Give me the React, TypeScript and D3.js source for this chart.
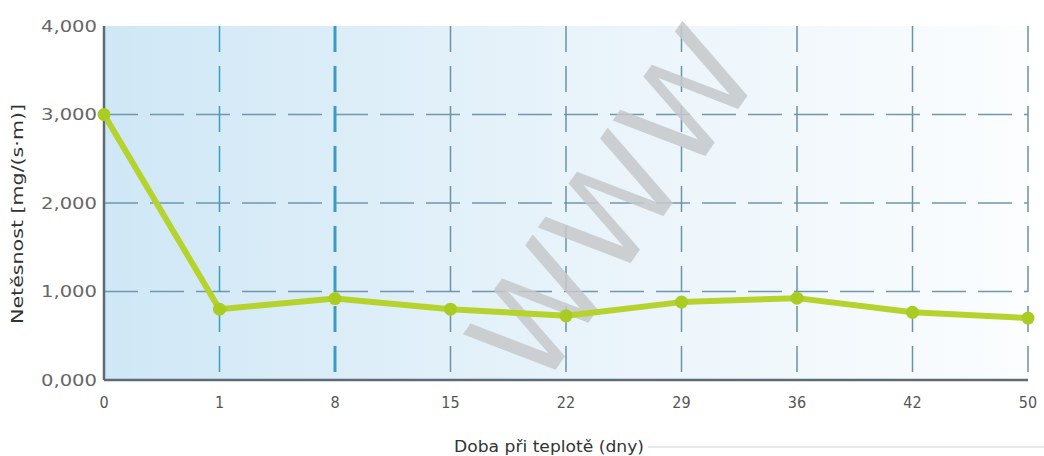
import React, { useEffect, useRef } from "react";
import * as d3 from "d3";

const categories = ["0", "1", "8", "15", "22", "29", "36", "42", "50"];
const values = [3000, 800, 920, 800, 725, 880, 925, 765, 700];
const yTicks = [0, 1000, 2000, 3000, 4000];
const yTickLabels = ["0,000", "1,000", "2,000", "3,000", "4,000"];
const yTitle = "Netěsnost [mg/(s·m)]";
const xTitle = "Doba při teplotě (dny)";

export default function App() {
  const ref = useRef<SVGSVGElement>(null);
  useEffect(() => {
    const W = 1044, H = 456;
    const m = { left: 104, right: 16, top: 26, bottom: 76 };
    const svg = d3.select(ref.current!);
    svg.selectAll("*").remove();
    const x = d3.scalePoint<string>().domain(categories).range([m.left, W - m.right]).padding(0);
    const y = d3.scaleLinear().domain([0, 4000]).range([H - m.bottom, m.top]);

    const defs = svg.append("defs");
    const g = defs.append("linearGradient").attr("id", "bg").attr("x1", "0").attr("x2", "1").attr("y1", "0").attr("y2", "0");
    g.append("stop").attr("offset", "0").attr("stop-color", "#cfe7f6");
    g.append("stop").attr("offset", "0.5").attr("stop-color", "#e8f3fa");
    g.append("stop").attr("offset", "1").attr("stop-color", "#fbfdfe");

    svg.append("rect").attr("width", W).attr("height", H).attr("fill", "#ffffff");
    svg.append("rect")
      .attr("x", x("0")!).attr("y", y(4000))
      .attr("width", x("50")! - x("0")!).attr("height", y(0) - y(4000))
      .attr("fill", "url(#bg)");

    // horizontal grid
    svg.append("g").selectAll("line").data(yTicks.filter(t => t > 0 && t < 4000)).join("line")
      .attr("x1", x("0")!).attr("x2", x("50")!)
      .attr("y1", d => y(d)).attr("y2", d => y(d))
      .attr("stroke", "#6f98ad").attr("stroke-width", 1.5).attr("stroke-dasharray", "34,12");
    // vertical grid
    svg.append("g").selectAll("line").data(categories.slice(1)).join("line")
      .attr("x1", d => x(d)!).attr("x2", d => x(d)!)
      .attr("y1", y(4000)).attr("y2", y(0))
      .attr("stroke", d => (d === "1" || d === "8" ? "#3a9ec0" : "#6a92a8"))
      .attr("stroke-width", d => (d === "8" ? 3 : 1.5))
      .attr("stroke-dasharray", "26,14");

    // watermark
    svg.append("text")
      .attr("transform", "translate(622,212) rotate(-55)")
      .attr("text-anchor", "middle").attr("dominant-baseline", "middle")
      .attr("font-family", "DejaVu Sans, sans-serif").attr("font-size", 132)
      .attr("fill", "#c7c9cb").attr("opacity", 0.85)
      .text("WWW");

    // axes lines
    svg.append("line").attr("x1", x("0")!).attr("x2", x("0")!).attr("y1", y(4000)).attr("y2", y(0))
      .attr("stroke", "#5e6b75").attr("stroke-width", 2.5);
    svg.append("line").attr("x1", x("0")!).attr("x2", x("50")!).attr("y1", y(0)).attr("y2", y(0))
      .attr("stroke", "#5e6b75").attr("stroke-width", 2.5);

    // y tick labels
    svg.append("g").selectAll("text").data(yTicks).join("text")
      .attr("x", 97).attr("y", d => y(d)).attr("dy", "0.35em")
      .attr("text-anchor", "end").attr("font-family", "DejaVu Sans Condensed, DejaVu Sans, sans-serif")
      .attr("font-size", 16).attr("fill", "#666")
      .attr("textLength", 56).attr("lengthAdjust", "spacingAndGlyphs")
      .text((d, i) => yTickLabels[i]);
    // x tick labels
    svg.append("g").selectAll("text").data(categories).join("text")
      .attr("x", d => x(d)!).attr("y", y(0) + 28)
      .attr("text-anchor", "middle").attr("font-family", "DejaVu Sans Condensed, DejaVu Sans, sans-serif")
      .attr("font-size", 16).attr("fill", "#555")
      .text(d => d);

    // titles
    svg.append("text").attr("transform", `translate(18,214) rotate(-90)`)
      .attr("text-anchor", "middle").attr("dy", "0.35em")
      .attr("font-family", "DejaVu Sans, sans-serif").attr("font-size", 15).attr("fill", "#333")
      .attr("textLength", 220).attr("lengthAdjust", "spacingAndGlyphs")
      .text(yTitle);
    svg.append("text").attr("x", 549).attr("y", 447).attr("dy", "0.35em")
      .attr("text-anchor", "middle")
      .attr("font-family", "DejaVu Sans, sans-serif").attr("font-size", 15).attr("fill", "#333")
      .attr("textLength", 190).attr("lengthAdjust", "spacingAndGlyphs")
      .text(xTitle);
    svg.append("line").attr("x1", 648).attr("x2", W).attr("y1", 447).attr("y2", 447)
      .attr("stroke", "#cfd3d6").attr("stroke-width", 1);

    // series
    const line = d3.line<number>().x((d, i) => x(categories[i])!).y(d => y(d));
    svg.append("path").datum(values).attr("d", line)
      .attr("fill", "none").attr("stroke", "#b5d32c").attr("stroke-width", 6)
      .attr("stroke-linejoin", "round");
    svg.append("g").selectAll("circle").data(values).join("circle")
      .attr("cx", (d, i) => x(categories[i])!).attr("cy", d => y(d)).attr("r", 6.5)
      .attr("fill", "#aacb22");
  }, []);
  return <svg ref={ref} width={1044} height={456} style={{ display: "block", position: "absolute", left: 0, top: 0 }} />;
}
